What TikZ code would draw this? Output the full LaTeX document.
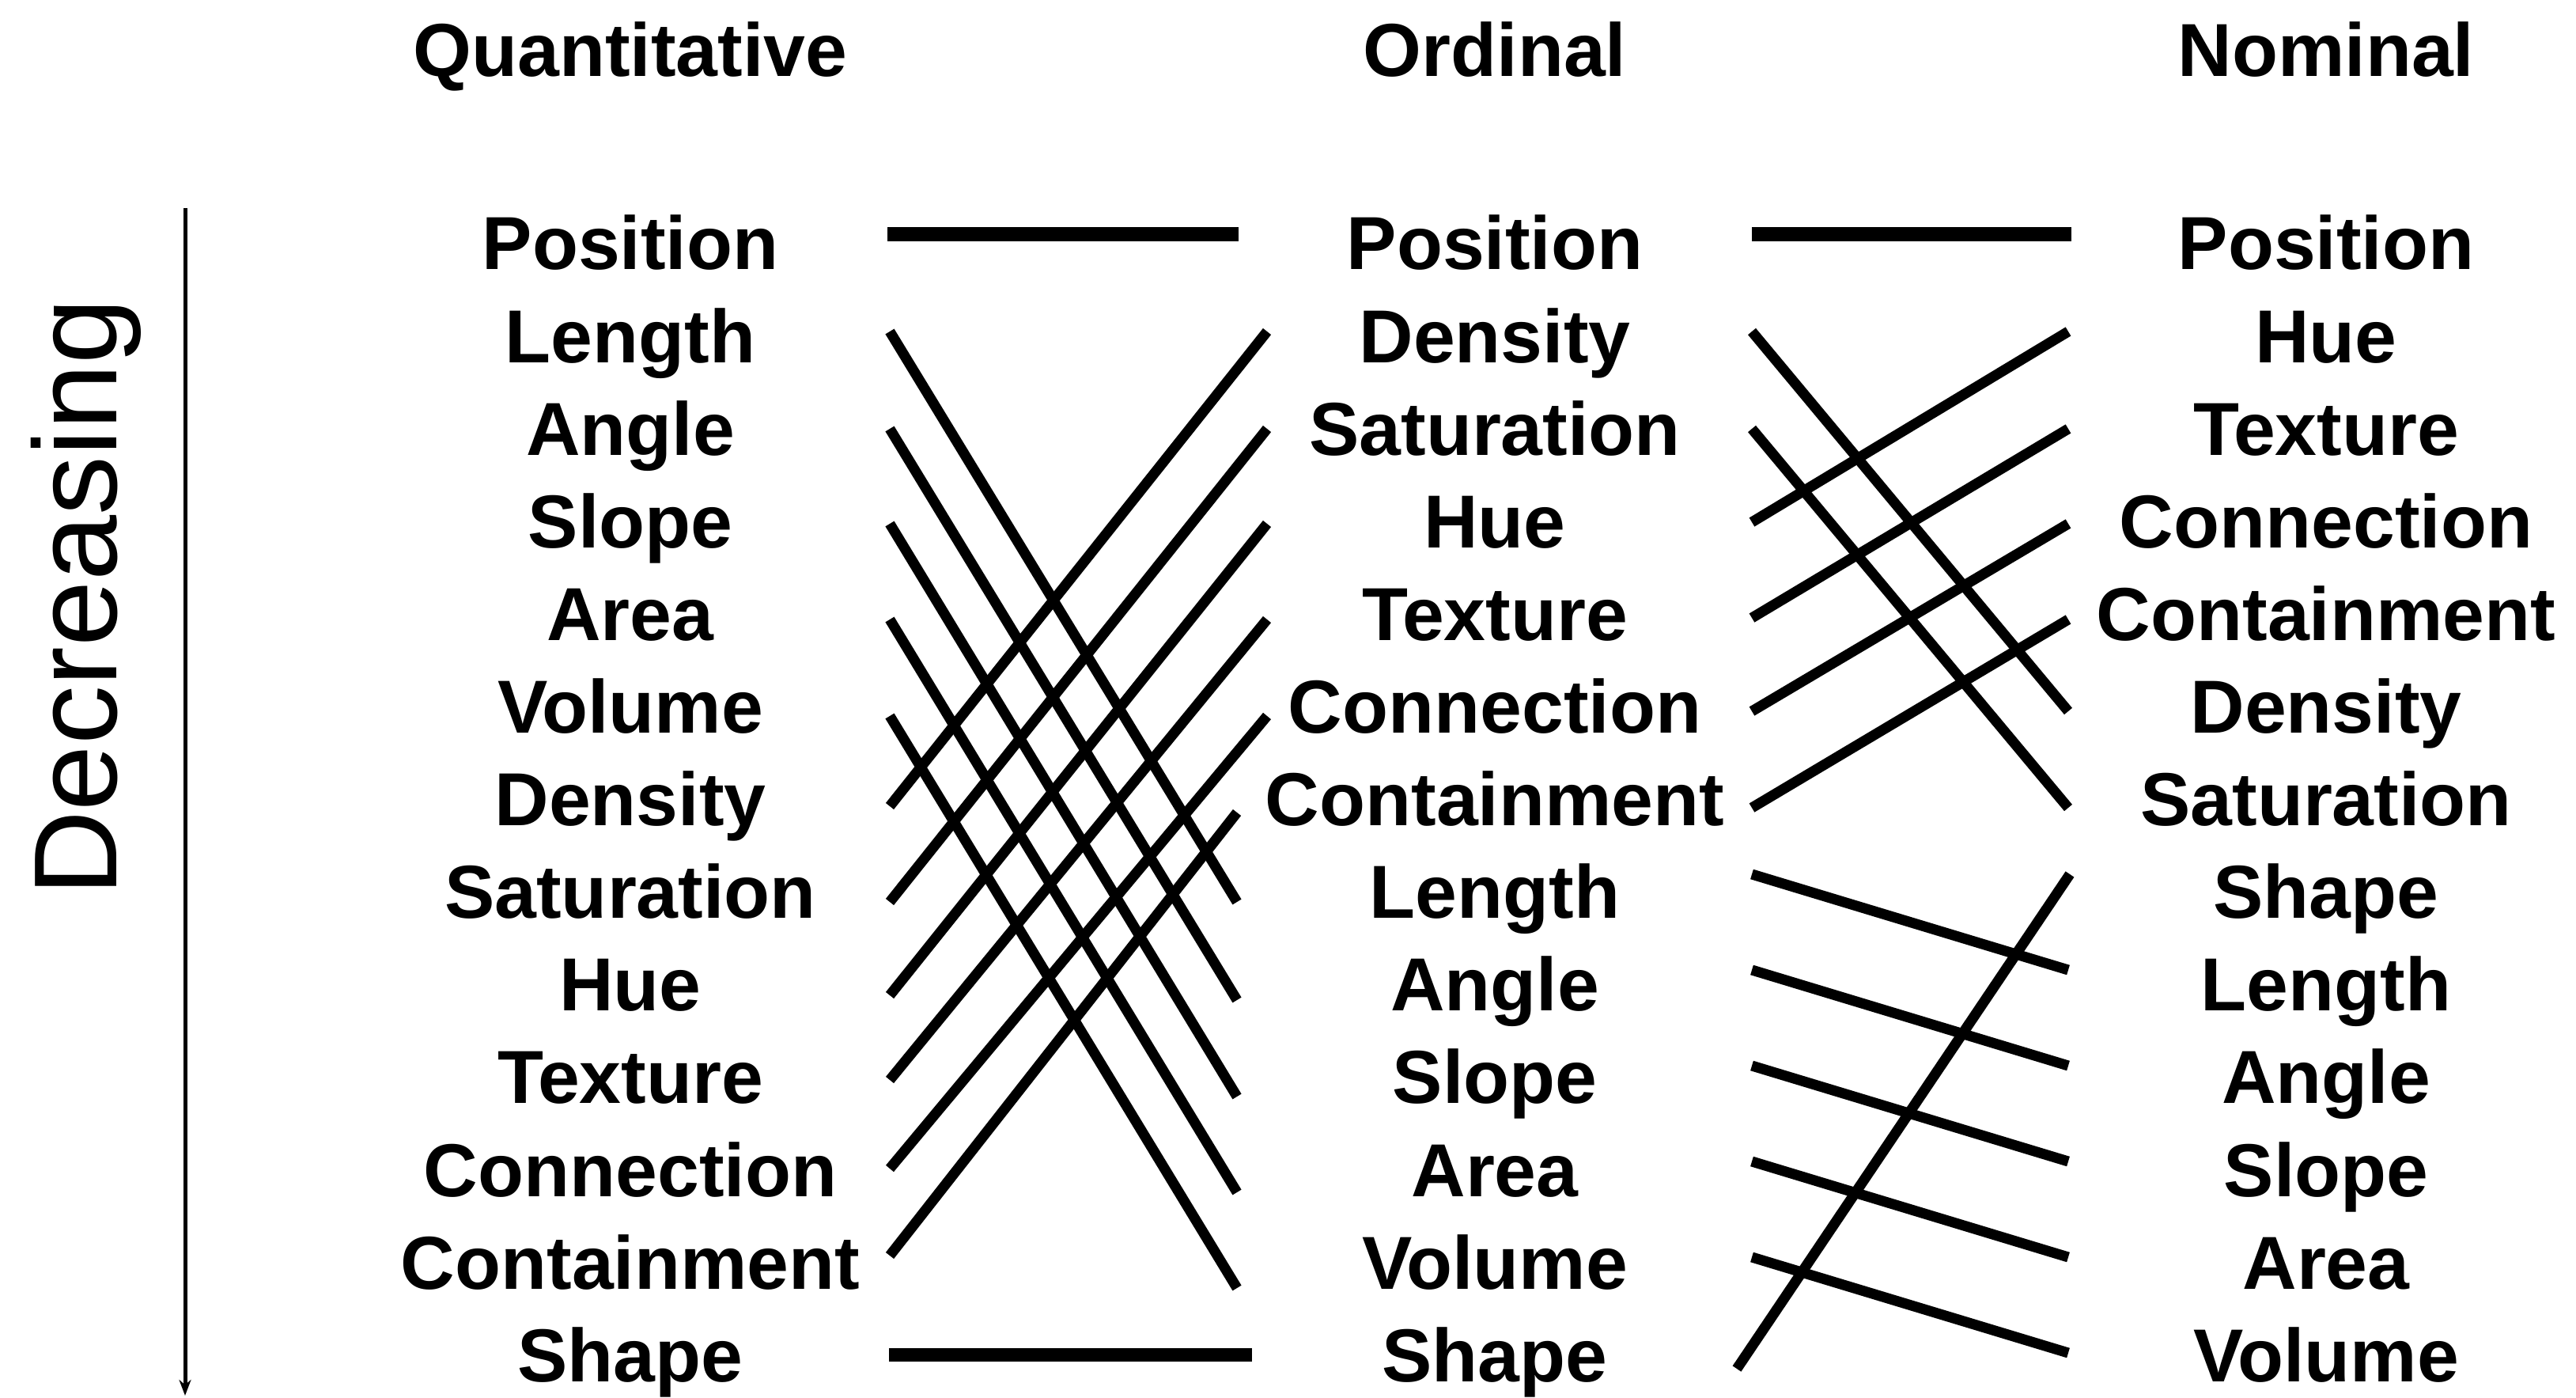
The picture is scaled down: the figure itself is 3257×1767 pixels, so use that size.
\documentclass[tikz,border=0pt]{standalone}
\usepackage{fontspec}
\usetikzlibrary{arrows.meta}
\newfontfamily\labfont{Liberation Sans}
\begin{document}
\begin{tikzpicture}[x=0.01cm,y=-0.01cm,
  lab/.style={font=\labfont\bfseries\fontsize{27}{30}\selectfont, anchor=base, inner sep=0pt},
  conn/.style={line width=0.13cm, black},
  hconn/.style={line width=0.17cm, black},
  axisline/.style={line width=0.05cm, -{Stealth[length=0.2cm,width=0.15cm]}}]
\useasboundingbox (0,0) rectangle (3257,1767);

% headers
\node[lab] (hq) at (797,97) {Quantitative};
\node[lab] (ho) at (1890,97) {Ordinal};
\node[lab] (hn) at (2941,97) {Nominal};

% axis
\node[font=\labfont\fontsize{42.5}{46}\selectfont, rotate=90, anchor=base, inner sep=0pt] (dec) at (147,755) {Decreasing};
\coordinate (axtop) at (234,263);
\coordinate (axbot) at (234,1764);
\draw[axisline] (axtop) -- (axbot);

% columns
\foreach \t [count=\i from 0] in {Position,Length,Angle,Slope,Area,Volume,Density,Saturation,Hue,Texture,Connection,Containment,Shape}
  \node[lab] (q\i) at (797,341+117.1*\i) {\t};
\foreach \t [count=\i from 0] in {Position,Density,Saturation,Hue,Texture,Connection,Containment,Length,Angle,Slope,Area,Volume,Shape}
  \node[lab] (o\i) at (1890,341+117.1*\i) {\t};
\foreach \t [count=\i from 0] in {Position,Hue,Texture,Connection,Containment,Density,Saturation,Shape,Length,Angle,Slope,Area,Volume}
  \node[lab] (n\i) at (2941,341+117.1*\i) {\t};

% left gap
\coordinate (lp1) at (1122,296); \coordinate (lp2) at (1566,296);
\draw[hconn] (lp1) -- (lp2);
\coordinate (ls1) at (1124,1712); \coordinate (ls2) at (1583,1712);
\draw[hconn] (ls1) -- (ls2);
\foreach \a/\b [count=\k] in {419/1140, 542/1264, 662/1386, 783/1507, 905/1628}{
  \coordinate (ld\k s) at (1125,\a); \coordinate (ld\k e) at (1564,\b);
  \draw[conn] (ld\k s) -- (ld\k e);}
\foreach \a/\bx/\by [count=\k] in {1019/1602/419, 1140/1602/542, 1258/1602/662, 1365/1602/783, 1477/1602/905, 1587/1564/1027}{
  \coordinate (lu\k s) at (1125,\a); \coordinate (lu\k e) at (\bx,\by);
  \draw[conn] (lu\k s) -- (lu\k e);}

% right gap
\coordinate (rp1) at (2215,296); \coordinate (rp2) at (2619,296);
\draw[hconn] (rp1) -- (rp2);
\foreach \a/\b [count=\k] in {419/899, 542/1021, 660/419, 781/542, 899/662, 1021/783, 1105/1226, 1226/1347, 1347/1468, 1468/1589, 1589/1710}{
  \coordinate (rd\k s) at (2215,\a); \coordinate (rd\k e) at (2615,\b);
  \draw[conn] (rd\k s) -- (rd\k e);}
\coordinate (rsh1) at (2196,1730); \coordinate (rsh2) at (2617,1105);
\draw[conn] (rsh1) -- (rsh2);
\end{tikzpicture}
\end{document}
